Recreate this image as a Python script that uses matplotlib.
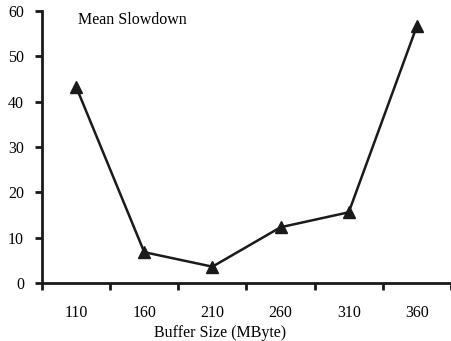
import matplotlib
matplotlib.use("Agg")
import matplotlib.pyplot as plt

categories = ["110", "160", "210", "260", "310", "360"]
values = [43.3, 6.8, 3.6, 12.3, 15.6, 56.7]
yticks = [0, 10, 20, 30, 40, 50, 60]

plt.rcParams['font.family'] = ['Liberation Serif', 'DejaVu Serif']
fig = plt.figure(figsize=(4.51, 3.41), dpi=100)
ax = fig.add_axes([42/451, 58/341, 1 - 42/451, (283-11)/341])
x = list(range(len(categories)))
ax.plot(x, values, color='#1a1a1a', lw=1.8, marker='^', ms=8, mfc='#1a1a1a', mec='#1a1a1a')
ax.set_xlim(-0.5, 5.38)
ax.set_ylim(0, 60)
ax.set_yticks(yticks)
ax.set_yticklabels([str(t) for t in yticks], fontsize=11.5)
ax.set_xticks([i - 0.5 for i in range(len(categories) + 1)])
ax.set_xticklabels([])
ax.set_xticks(x, minor=True)
ax.set_xticklabels(categories, minor=True, fontsize=11.5)
ax.tick_params(axis='x', which='minor', length=0, pad=16)
ax.tick_params(axis='both', which='major', direction='out', length=5, width=2, color='#1a1a1a')
ax.tick_params(axis='y', pad=8)
for s in ['top', 'right']:
    ax.spines[s].set_visible(False)
for s in ['left', 'bottom']:
    ax.spines[s].set_linewidth(2)
    ax.spines[s].set_color('#1a1a1a')
ax.set_xlabel("Buffer Size (MByte)", fontsize=11.5)
ax.xaxis.set_label_coords((220-42)/409, -0.155)
ax.text((78-42)/409, (283-20)/272, "Mean Slowdown", transform=ax.transAxes, fontsize=11.5, va='center', ha='left')
fig.savefig("out.png", dpi=100)
